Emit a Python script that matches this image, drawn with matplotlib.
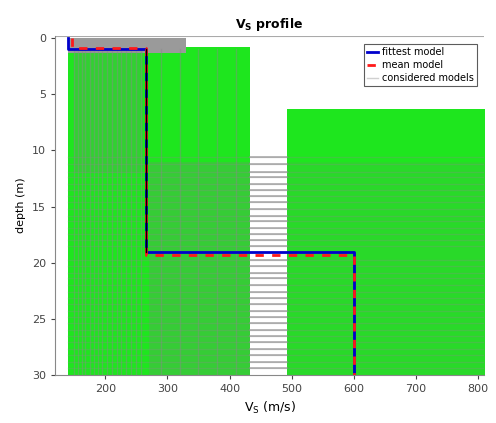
import numpy as np
import matplotlib.pyplot as plt

# fittest / mean model (Vs in m/s, layer bottoms in m)
fit_vs = [140, 265, 600]
fit_depth = [0, 1.0, 19.0, 30]
mean_vs = [146, 266, 600]
mean_depth = [0, 0.9, 19.3, 30]

# search space covered by the considered models (Vs min, Vs max, depth top, depth bottom)
green_boxes = [
    (140, 433, 0.8, 30),
    (492, 812, 6.3, 30),
]
top_box = (140, 330, 0.0, 1.3)

# traces of considered models seen in the picture
gray_vs = [150, 156, 162, 168, 175, 182, 188, 195, 202, 210, 218, 226, 234, 242, 250, 258,
           290, 320, 350, 380, 410]
gray_depths = [10.6, 11.2, 11.9, 12.4, 13.0, 13.5, 14.1, 14.6, 15.2, 15.8, 16.3, 16.9, 17.4,
               18.0, 18.5, 19.8, 20.3, 20.9, 21.4, 22.0, 22.6, 23.1, 23.7, 24.3, 24.8, 25.4,
               26.0, 26.5, 27.1, 27.7, 28.2, 28.8, 29.4]


def steps(vs, depth):
    x, y = [], []
    for i, v in enumerate(vs):
        x += [v, v]
        y += [depth[i], depth[i + 1]]
    return x, y


fig = plt.figure(figsize=(4.96, 4.23), dpi=100)
ax = fig.add_axes([0.111, 0.1135, 0.865, 0.8015])

green = "#1ee61e"
for v0, v1, d0, d1 in green_boxes:
    ax.fill_between([v0, v1], d0, d1, color=green, lw=0, zorder=1)
ax.fill_between([top_box[0], top_box[1]], top_box[2], top_box[3], color="#9a9a9a", lw=0, zorder=2)
# grey tint where many models overlap
ax.fill_between([270, 433], 11, 30, color="#808080", alpha=0.25, lw=0, zorder=2)
ax.fill_between([492, 812], 11, 30, color="#808080", alpha=0.12, lw=0, zorder=2)
ax.fill_between([150, 260], 1.0, 12, color="#808080", alpha=0.2, lw=0, zorder=2)

# gray vertical traces in the first layer area
for v in gray_vs:
    ax.plot([v, v], [1.0, 30], color="#8a8a8a", lw=1.0, alpha=0.45, zorder=2)
# gray interfaces
for d in gray_depths:
    ax.plot([140, 812], [d, d], color="#8a8a8a", lw=1.0, alpha=0.3, zorder=2)
    ax.plot([433, 492], [d, d], color="#8c8c8c", lw=1.2, alpha=0.7, zorder=2)
ax.plot([], [], color="#d0d0d0", lw=1, label="considered models")

x, y = steps(fit_vs, fit_depth)
ax.plot(x, y, color="#0000cc", lw=2, label="fittest model", zorder=4)
x, y = steps(mean_vs, mean_depth)
ax.plot(x, y, color="#ff1a1a", lw=2, ls=(0, (3, 3)), label="mean model", zorder=5)
ax.plot([266, 266], [1.0, 19.0], color="black", lw=1, zorder=6)
ax.plot([600, 600], [19.0, 30], color="black", lw=1, zorder=3)

ax.set_xlim(119, 810)
ax.set_ylim(30, -0.2)
ax.set_xticks([200, 300, 400, 500, 600, 700, 800])
ax.set_yticks([0, 5, 10, 15, 20, 25, 30])
ax.tick_params(labelsize=8, colors="#444444", length=3)
for s in ["top", "right"]:
    ax.spines[s].set_visible(False)
ax.spines["left"].set_color("#888888")
ax.spines["bottom"].set_color("#888888")
ax.axhline(-0.2, color="#aaaaaa", lw=0.8)

ax.set_xlabel(r"V$_\mathregular{S}$ (m/s)", fontsize=9)
ax.set_ylabel("depth (m)", fontsize=8)
ax.set_title(r"V$_\mathregular{S}$ profile", fontsize=9, fontweight="bold")

h, l = ax.get_legend_handles_labels()
leg = ax.legend([h[1], h[2], h[0]], [l[1], l[2], l[0]], loc="upper right", fontsize=7,
                frameon=True, fancybox=False, edgecolor="#333333", borderpad=0.3,
                handlelength=1.2, handletextpad=0.4, labelspacing=0.3,
                bbox_to_anchor=(0.995, 0.99))
leg.get_frame().set_linewidth(0.8)

plt.savefig("out.png", dpi=100)
